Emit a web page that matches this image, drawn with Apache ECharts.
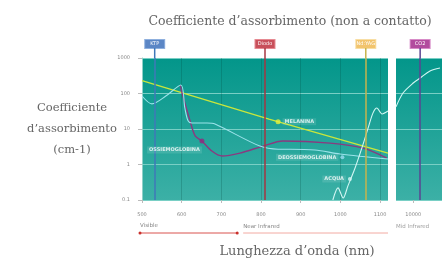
<!DOCTYPE html>
<html>
<head>
<meta charset="utf-8">
<script src="https://cdn.jsdelivr.net/npm/echarts@6/dist/echarts.min.js"></script>
<style>
  html, body { margin: 0; padding: 0; background: #fff; }
  #chart { width: 442px; height: 262px; }
</style>
</head>
<body>
<div id="chart"></div>
<script>
// dati (lunghezza d'onda in nm, coefficiente in cm-1)
const xTicks = [500, 600, 700, 800, 900, 1000, 1100];
const xTicksMid = [10000];

const melanina = [[500, 230], [820, 19], [1120, 2.1]];
const ossiemoglobina = [
  [596, 173], [603, 85], [621, 17], [634, 6.4], [651, 4.6], [676, 2.4], [702, 1.73],
  [747, 2.1], [805, 3.3], [855, 4.6], [974, 4.0], [1057, 2.9], [1117, 1.52]
];
const deossiemoglobina = [
  [500, 85], [525, 51], [560, 85], [598, 173], [608, 39], [616, 17], [626, 14.7],
  [664, 14.7], [684, 13.8], [797, 3.3], [843, 2.7], [873, 2.7], [936, 2.56],
  [999, 1.98], [1120, 1.43]
];
const acqua = [
  [981, 0.1], [994, 0.22], [1007, 0.114], [1019, 0.25], [1037, 0.8], [1054, 2.9],
  [1070, 10.7], [1082, 28], [1092, 39], [1105, 26.5], [1120, 32]
];
const acquaMid = [[8500, 42], [9109, 103], [10000, 198], [10609, 274], [11457, 430], [12326, 523]];

// laser
const laserNomi = ['KTP', 'Diodo', 'Nd:YAG'];
const laserLambda = [532, 810, 1064];
const laserMidNome = 'CO2';
const laserMidLambda = 10600;

// punti delle etichette
const puntoMelanina = [843, 16];
const puntoOssi = [651, 4.6];
const puntoDeossi = [1005, 1.6];
const puntoAcqua = [1024, 0.39];

// bande spettrali
const bandaVisibile = [[495, 0.5], [740, 0.5]];
const bandaNIR = [[755, 0.5], [1120, 0.5]];
const bandaMIR = [[8500, 0.5]];

const laserStile = [
  { line: '#3f78b8', box: '#5b86c5', border: '#8fb0de' },
  { line: '#a53642', box: '#c8505b', border: '#e68a92' },
  { line: '#c6b44c', box: '#f2c46d', border: '#f8dea4' }
];
const laserMidStile = { line: '#5a4592', box: '#b24c9e', border: '#d88cc8' };

function laserMark(nome, lambda, st) {
  return {
    xAxis: lambda,
    lineStyle: { color: st.line, width: 1.5, type: 'solid' },
    label: {
      show: true,
      position: 'end',
      distance: 0,
      formatter: '{box|' + nome + '}\n{stem| }',
      rich: {
        box: {
          backgroundColor: st.box, borderColor: st.border, borderWidth: 1,
          color: '#fff', fontSize: 5, width: 19, height: 8, lineHeight: 8,
          align: 'center', fontFamily: 'DejaVu Sans'
        },
        stem: { backgroundColor: st.line, width: 1.5, height: 10, lineHeight: 10, fontSize: 1 }
      }
    }
  };
}

const numero = v => String(v);

const sfondo = new echarts.graphic.LinearGradient(0, 0, 0, 1, [
  { offset: 0, color: '#03968a' },
  { offset: 1, color: '#3cb0a6' }
]);

const etichetta = {
  show: true, color: '#fff', fontSize: 5, fontWeight: 'bold',
  fontFamily: 'DejaVu Sans', backgroundColor: 'rgba(255,255,255,0.15)', padding: [1, 2]
};

const chart = echarts.init(document.getElementById('chart'));
chart.setOption({
  animation: false,
  backgroundColor: '#fff',
  grid: [
    { left: 142, top: 58, width: 246, height: 142, show: true, backgroundColor: sfondo, borderWidth: 0 },
    { left: 396, top: 58, width: 46, height: 142, show: true, backgroundColor: sfondo, borderWidth: 0 },
    { left: 140, top: 225, width: 248, height: 16 },
    { left: 396, top: 225, width: 46, height: 16 }
  ],
  xAxis: [
    {
      type: 'value', gridIndex: 0, min: 500, max: 1120, interval: 100,
      axisLine: { show: false },
      axisTick: { show: true, customValues: xTicks, length: 3, lineStyle: { color: '#bbb' } },
      axisLabel: { customValues: xTicks, formatter: numero, fontSize: 5, color: '#888', margin: 12, fontFamily: 'DejaVu Sans' },
      splitLine: { show: true, lineStyle: { color: 'rgba(0,70,60,0.22)', width: 1 } }
    },
    {
      type: 'value', gridIndex: 1, min: 8500, max: 12500,
      axisLine: { show: false },
      axisTick: { show: true, customValues: xTicksMid, length: 3, lineStyle: { color: '#bbb' } },
      axisLabel: { customValues: xTicksMid, formatter: numero, fontSize: 5, color: '#888', margin: 12, fontFamily: 'DejaVu Sans' },
      splitLine: { show: false }
    },
    { type: 'value', gridIndex: 2, min: 495, max: 1120, show: false },
    { type: 'value', gridIndex: 3, min: 8500, max: 12500, show: false }
  ],
  yAxis: [
    {
      type: 'log', gridIndex: 0, min: 0.1, max: 1000, logBase: 10,
      axisLine: { show: true, lineStyle: { color: '#8fd0c8' } },
      axisTick: { show: true, length: 4, lineStyle: { color: '#bbb' } },
      axisLabel: { formatter: numero, fontSize: 5, color: '#888', margin: 12, fontFamily: 'DejaVu Sans' },
      splitLine: { show: true, lineStyle: { color: '#79cfc5', width: 1 } }
    },
    {
      type: 'log', gridIndex: 1, min: 0.1, max: 1000, logBase: 10,
      axisLine: { show: false }, axisTick: { show: false }, axisLabel: { show: false },
      splitLine: { show: true, lineStyle: { color: '#79cfc5', width: 1 } }
    },
    { type: 'value', gridIndex: 2, min: 0, max: 1, show: false },
    { type: 'value', gridIndex: 3, min: 0, max: 1, show: false }
  ],
  graphic: [
    {
      type: 'text', x: 290, y: 22,
      style: {
        text: 'Coefficiente d\u2019assorbimento (non a contatto)',
        fill: '#666', font: '12.5px "DejaVu Serif"', textAlign: 'center', textVerticalAlign: 'middle'
      }
    },
    {
      type: 'text', x: 72, y: 129,
      style: {
        text: 'Coefficiente\nd\u2019assorbimento\n(cm-1)', lineHeight: 21,
        fill: '#666', font: '11.5px "DejaVu Serif"', textAlign: 'center', textVerticalAlign: 'middle'
      }
    },
    {
      type: 'text', x: 297, y: 252,
      style: {
        text: 'Lunghezza d\u2019onda (nm)',
        fill: '#666', font: '13px "DejaVu Serif"', textAlign: 'center', textVerticalAlign: 'middle'
      }
    }
  ],
  series: [
    {
      name: 'Melanina', type: 'line', xAxisIndex: 0, yAxisIndex: 0, data: melanina,
      showSymbol: false, lineStyle: { color: '#c8e63c', width: 1.4 }, z: 3,
      markLine: {
        silent: true, symbol: 'none',
        data: laserNomi.map((n, i) => laserMark(n, laserLambda[i], laserStile[i]))
      }
    },
    {
      name: 'Ossiemoglobina', type: 'line', xAxisIndex: 0, yAxisIndex: 0, data: ossiemoglobina,
      showSymbol: false, smooth: 0.3, lineStyle: { color: '#8a3a80', width: 1.4 }, z: 3
    },
    {
      name: 'Deossiemoglobina', type: 'line', xAxisIndex: 0, yAxisIndex: 0, data: deossiemoglobina,
      showSymbol: false, smooth: 0.3, lineStyle: { color: '#9be3ea', width: 1.1 }, z: 3
    },
    {
      name: 'Acqua', type: 'line', xAxisIndex: 0, yAxisIndex: 0, data: acqua,
      showSymbol: false, smooth: 0.3, lineStyle: { color: '#d2f6f3', width: 1.1 }, z: 3
    },
    {
      name: 'Acqua MIR', type: 'line', xAxisIndex: 1, yAxisIndex: 1, data: acquaMid,
      showSymbol: false, smooth: 0.3, lineStyle: { color: '#d2f6f3', width: 1.1 }, z: 3,
      markLine: {
        silent: true, symbol: 'none',
        data: [laserMark(laserMidNome, laserMidLambda, laserMidStile)]
      }
    },
    {
      type: 'scatter', xAxisIndex: 0, yAxisIndex: 0, data: [puntoMelanina], symbolSize: 5, z: 5,
      itemStyle: { color: '#e6f03c' },
      label: Object.assign({}, etichetta, { position: 'right', distance: 2, formatter: 'MELANINA' })
    },
    {
      type: 'scatter', xAxisIndex: 0, yAxisIndex: 0, data: [puntoOssi], symbolSize: 5, z: 5,
      itemStyle: { color: '#8e2a80' },
      label: Object.assign({}, etichetta, { position: 'bottom', align: 'right', distance: 3, formatter: 'OSSIEMOGLOBINA' })
    },
    {
      type: 'scatter', xAxisIndex: 0, yAxisIndex: 0, data: [puntoDeossi], symbolSize: 4, z: 5,
      itemStyle: { color: '#9cdcf0' },
      label: Object.assign({}, etichetta, { position: 'left', distance: 2, formatter: 'DEOSSIEMOGLOBINA' })
    },
    {
      type: 'scatter', xAxisIndex: 0, yAxisIndex: 0, data: [puntoAcqua], symbolSize: 4, z: 5,
      itemStyle: { color: '#d6f6f4' },
      label: Object.assign({}, etichetta, { position: 'left', distance: 2, formatter: 'ACQUA' })
    },
    {
      type: 'line', xAxisIndex: 2, yAxisIndex: 2, data: bandaVisibile,
      symbol: 'circle', symbolSize: 3, showSymbol: true,
      lineStyle: { color: '#d9534f', width: 1 },
      itemStyle: { color: '#c9302c', opacity: 1 },
      label: {
        show: true, position: 'top', align: 'left', distance: 3, fontSize: 5.5, color: '#888',
        fontFamily: 'DejaVu Sans',
        formatter: p => (p.dataIndex === 0 ? 'Visible' : '')
      }
    },
    {
      type: 'line', xAxisIndex: 2, yAxisIndex: 2, data: bandaNIR,
      symbol: 'none', lineStyle: { color: '#f2aaa2', width: 1 },
      markPoint: {
        symbol: 'circle', symbolSize: 0,
        data: [{ coord: bandaNIR[0] }],
        label: {
          show: true, position: 'top', align: 'left', distance: 3, fontSize: 5.5, color: '#888',
          fontFamily: 'DejaVu Sans', formatter: 'Near Infrared'
        }
      }
    },
    {
      type: 'scatter', xAxisIndex: 3, yAxisIndex: 3, data: bandaMIR, symbolSize: 0,
      label: {
        show: true, position: 'top', align: 'left', distance: 3, fontSize: 5.5, color: '#888',
        fontFamily: 'DejaVu Sans', formatter: 'Mid Infrared'
      }
    }
  ]
});
</script>
</body>
</html>
